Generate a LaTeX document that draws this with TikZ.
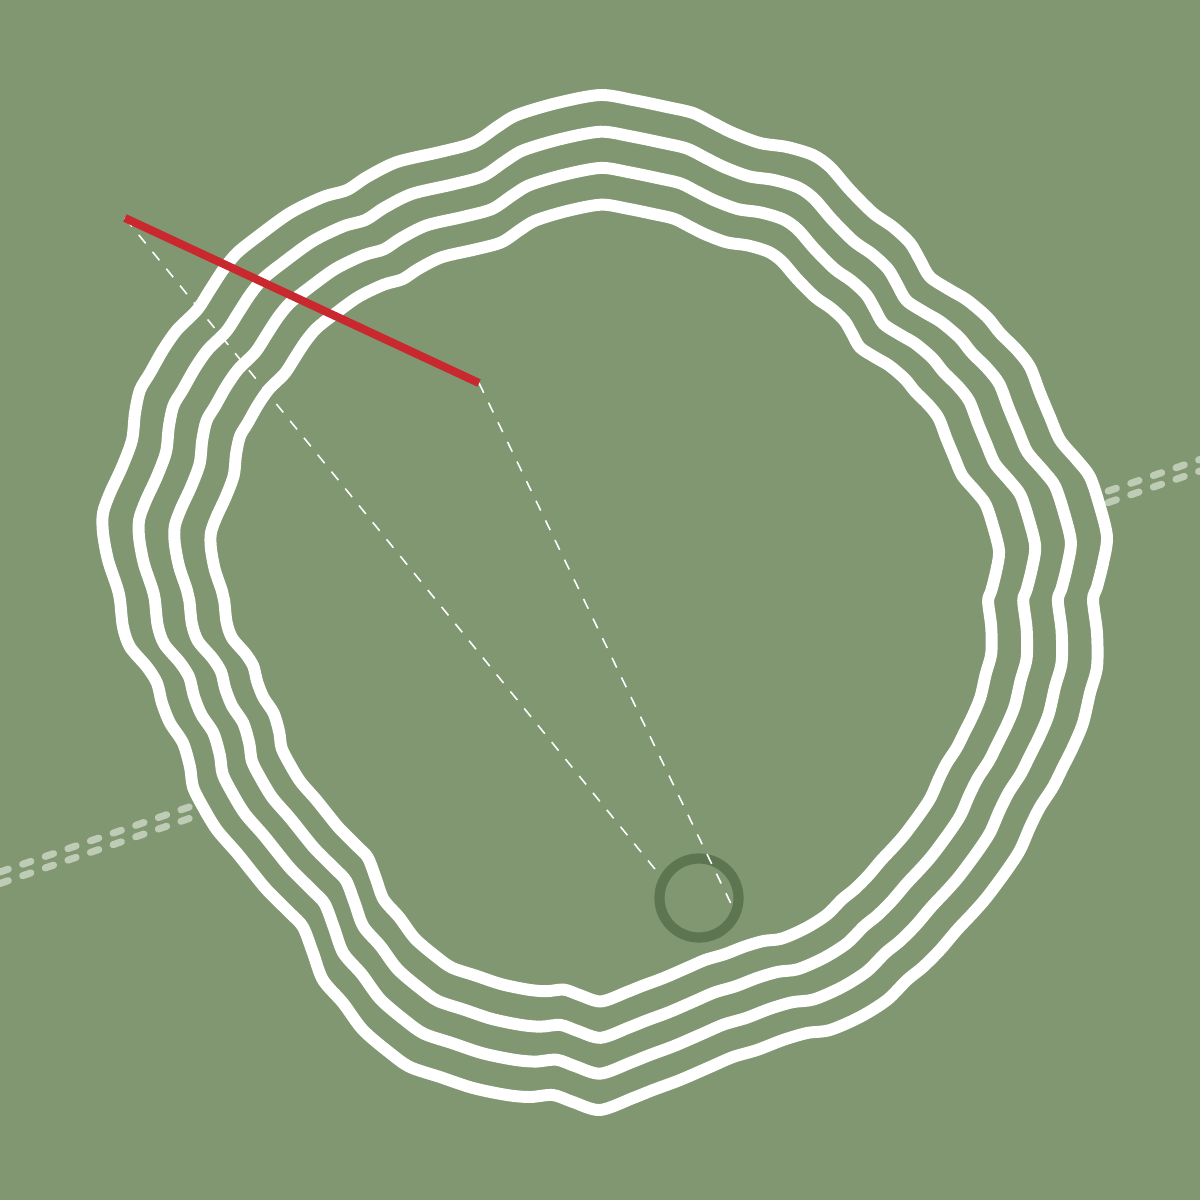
\documentclass[tikz,border=0pt]{standalone}
\usepackage{tikz}
\usepackage{xcolor}
\definecolor{grass}{RGB}{128,151,114}
\definecolor{flagred}{RGB}{200,40,46}
\definecolor{cupgreen}{RGB}{93,117,80}
\definecolor{pathgrey}{RGB}{190,203,181}

\begin{document}
\begin{tikzpicture}[x=0.01cm,y=-0.01cm]
			\useasboundingbox[fill=grass] (0,0) rectangle (1200,1200);
			\tikzstyle{cartpath}=[pathgrey,line width=2pt,line cap=round,dash pattern=on 2.5pt off 4.3pt]
			\tikzstyle{contour}=[white,line width=3.4pt,fill=grass]
			\tikzstyle{sightline}=[white,line width=0.45pt,dash pattern=on 3.1pt off 3.1pt]
			% cart path, hidden under the green
			\coordinate (pathWa) at (0,872);
			\coordinate (pathEa) at (1200,459.5);
			\coordinate (pathWb) at (0,883.5);
			\coordinate (pathEb) at (1200,471);
			\draw[cartpath] (pathWa) -- (pathEa);
			\draw[cartpath] (pathWb) -- (pathEb);
			% contour rings, outer to inner
			\foreach \s in {1,0.928,0.857,0.785}
				\draw[contour,scale around={\s:(605,605)}] plot[smooth cycle] coordinates {
					(600,95) (633,100) (667,107) (693,113) (713,123) (733,133) (760,143) (787,147)
					(813,155) (830,167) (850,190) (873,213) (893,227) (910,243) (920,260) (930,277)
					(950,290) (967,300) (987,317) (1000,333) (1017,350) (1030,367) (1040,393) (1050,417)
					(1060,440) (1077,460) (1090,477) (1100,507) (1107,537) (1103,563) (1097,587) (1093,600)
					(1097,633) (1097,667) (1090,693) (1083,723) (1073,747) (1063,767) (1053,787) (1040,807)
					(1030,827) (1020,850) (1007,870) (987,897) (973,913) (957,930) (940,950) (923,967)
					(907,980) (887,1000) (860,1017) (830,1030) (807,1033) (783,1040) (757,1050) (733,1057)
					(710,1067) (680,1080) (653,1090) (633,1098) (600,1110) (573,1102) (553,1095) (530,1097)
					(507,1095) (473,1088) (440,1077) (410,1067) (390,1053) (363,1030) (343,1003) (323,980)
					(313,953) (303,927) (290,913) (267,890) (253,873) (237,853) (217,830) (203,807)
					(193,787) (190,767) (183,743) (170,723) (162,703) (157,683) (147,667) (130,647)
					(123,627) (120,600) (117,587) (108,560) (103,533) (103,513) (110,493) (122,467)
					(132,440) (135,413) (140,390) (150,373) (163,350) (177,330) (197,310) (210,290)
					(223,270) (237,253) (257,237) (290,213) (323,197) (347,190) (367,177) (397,162)
					(440,152) (473,143) (497,127) (517,115) (557,103)};
			% cup
			\node[circle,draw=cupgreen,line width=2.9pt,minimum size=0.79cm,inner sep=0pt] (cup) at (699,898) {};
			% flag stick and sight lines
			\coordinate (flagA) at (125,218);
			\coordinate (flagB) at (479,383);
			\coordinate (aimR) at (735,912);
			\draw[sightline] (flagA) -- (cup.150);
			\draw[sightline] (flagB) -- (aimR);
			\draw[flagred,line width=2.3pt] (flagA) -- (flagB);
		\end{tikzpicture}
\end{document}
